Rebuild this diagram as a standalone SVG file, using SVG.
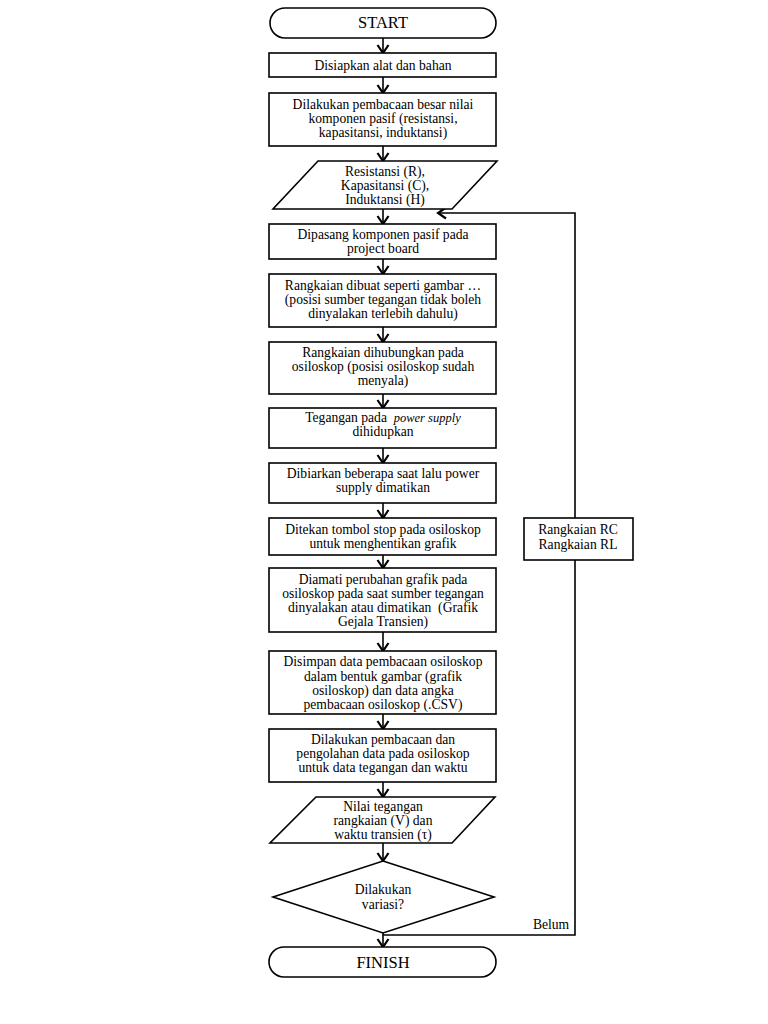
<svg xmlns="http://www.w3.org/2000/svg" width="768" height="1024" viewBox="0 0 768 1024">
<defs>
<marker id="ah" markerWidth="12" markerHeight="14" refX="10" refY="7" orient="auto" markerUnits="userSpaceOnUse" viewBox="0 0 12 14">
<path d="M2,1.5 L10,7 L2,12.5" fill="none" stroke="#000" stroke-width="2.2"/>
</marker>
</defs>
<style>
.s{fill:#fff;stroke:#000;stroke-width:1.6}
text{font-family:"Liberation Serif","Times New Roman",serif;font-size:13.6px;text-anchor:middle;fill:#000;white-space:pre}
.big{font-size:16.5px}
.c{fill:none;stroke:#000;stroke-width:1.6}
</style>
<rect width="768" height="1024" fill="#fff"/>
<g id="connectors">
<line class="c" x1="383" y1="38" x2="383" y2="53" marker-end="url(#ah)"/>
<line class="c" x1="383" y1="77" x2="383" y2="93" marker-end="url(#ah)"/>
<line class="c" x1="383" y1="146" x2="383" y2="161" marker-end="url(#ah)"/>
<line class="c" x1="383" y1="209" x2="383" y2="224" marker-end="url(#ah)"/>
<line class="c" x1="383" y1="259" x2="383" y2="274" marker-end="url(#ah)"/>
<line class="c" x1="383" y1="327" x2="383" y2="342" marker-end="url(#ah)"/>
<line class="c" x1="383" y1="394" x2="383" y2="408" marker-end="url(#ah)"/>
<line class="c" x1="383" y1="448" x2="383" y2="463" marker-end="url(#ah)"/>
<line class="c" x1="383" y1="503" x2="383" y2="518" marker-end="url(#ah)"/>
<line class="c" x1="383" y1="555" x2="383" y2="568" marker-end="url(#ah)"/>
<line class="c" x1="383" y1="632" x2="383" y2="651" marker-end="url(#ah)"/>
<line class="c" x1="383" y1="714" x2="383" y2="729" marker-end="url(#ah)"/>
<line class="c" x1="383" y1="782" x2="383" y2="797" marker-end="url(#ah)"/>
<line class="c" x1="383" y1="843" x2="383" y2="861" marker-end="url(#ah)"/>
<line class="c" x1="383" y1="932" x2="383" y2="947" marker-end="url(#ah)"/>
<polyline class="c" points="383,935 575,935 575,213 438,213" marker-end="url(#ah)"/>
<text x="551" y="929" font-size="12.5">Belum</text>
</g>
<g id="start"><rect class="s" x="270" y="8" width="226" height="30" rx="15"/><text class="big" x="383" y="28">START</text></g>
<g id="n1"><rect class="s" x="269" y="53" width="227" height="24"/><text x="383" y="70">Disiapkan alat dan bahan</text></g>
<g id="n2"><rect class="s" x="269" y="93" width="227" height="53"/><text x="383" y="109">Dilakukan pembacaan besar nilai</text><text x="383" y="123">komponen pasif (resistansi,</text><text x="383" y="137">kapasitansi, induktansi)</text></g>
<g id="io1"><polygon class="s" points="318,161 497,161 452,209 273,209"/><text x="385" y="176">Resistansi (R),</text><text x="385" y="190">Kapasitansi (C),</text><text x="385" y="204">Induktansi (H)</text></g>
<g id="n3"><rect class="s" x="269" y="224" width="227" height="35"/><text x="383" y="239">Dipasang komponen pasif pada</text><text x="383" y="253">project board</text></g>
<g id="n4"><rect class="s" x="269" y="274" width="227" height="53"/><text x="383" y="290">Rangkaian dibuat seperti gambar …</text><text x="383" y="304">(posisi sumber tegangan tidak boleh</text><text x="383" y="318">dinyalakan terlebih dahulu)</text></g>
<g id="n5"><rect class="s" x="269" y="342" width="227" height="52"/><text x="383" y="357">Rangkaian dihubungkan pada</text><text x="383" y="371">osiloskop (posisi osiloskop sudah</text><text x="383" y="385">menyala)</text></g>
<g id="n6"><rect class="s" x="269" y="408" width="227" height="40"/><text x="383" y="422">Tegangan pada  <tspan font-style="italic" font-size="12.5">power supply</tspan></text><text x="383" y="436">dihidupkan</text></g>
<g id="n7"><rect class="s" x="269" y="463" width="227" height="40"/><text x="383" y="478">Dibiarkan beberapa saat lalu power</text><text x="383" y="492">supply dimatikan</text></g>
<g id="n8"><rect class="s" x="269" y="518" width="227" height="37"/><text x="383" y="534">Ditekan tombol stop pada osiloskop</text><text x="383" y="548">untuk menghentikan grafik</text></g>
<g id="n9"><rect class="s" x="269" y="568" width="227" height="64"/><text x="383" y="584">Diamati perubahan grafik pada</text><text x="383" y="598">osiloskop pada saat sumber tegangan</text><text x="383" y="612">dinyalakan atau dimatikan  (Grafik</text><text x="383" y="626">Gejala Transien)</text></g>
<g id="n10"><rect class="s" x="269" y="651" width="227" height="63"/><text x="383" y="666">Disimpan data pembacaan osiloskop</text><text x="383" y="681">dalam bentuk gambar (grafik</text><text x="383" y="695">osiloskop) dan data angka</text><text x="383" y="709">pembacaan osiloskop (.CSV)</text></g>
<g id="n11"><rect class="s" x="269" y="729" width="227" height="53"/><text x="383" y="744">Dilakukan pembacaan dan</text><text x="383" y="758">pengolahan data pada osiloskop</text><text x="383" y="772">untuk data tegangan dan waktu</text></g>
<g id="io2"><polygon class="s" points="316,797 495,797 452,843 270,843"/><text x="383" y="811">Nilai tegangan</text><text x="383" y="825">rangkaian (V) dan</text><text x="383" y="839">waktu transien (τ)</text></g>
<g id="dec"><polygon class="s" points="383,861 494,897 383,933 273,897"/><text x="383" y="894">Dilakukan</text><text x="383" y="909">variasi?</text></g>
<g id="finish"><rect class="s" x="269" y="947" width="227" height="30" rx="15"/><text class="big" x="383" y="968">FINISH</text></g>
<g id="var"><rect class="s" x="524" y="518" width="109" height="42"/><text x="578" y="534">Rangkaian RC</text><text x="578" y="549">Rangkaian RL</text></g>
</svg>
